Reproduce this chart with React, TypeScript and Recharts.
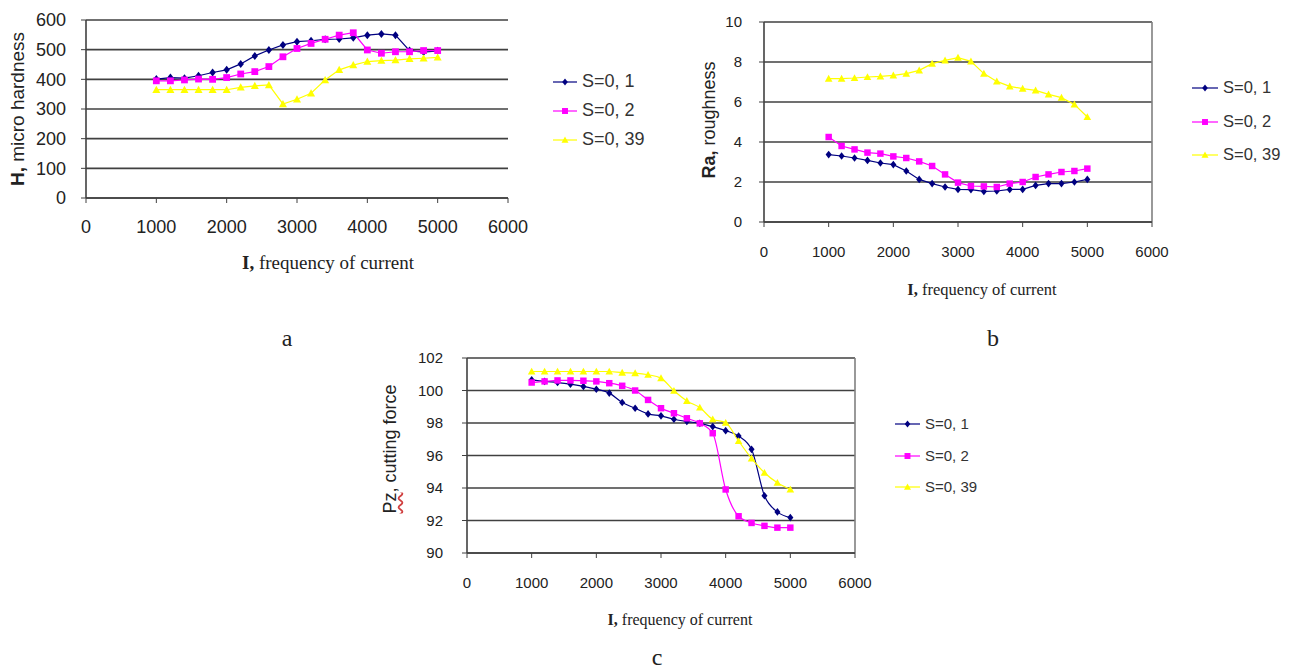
import React from 'react';
import { LineChart, Line, XAxis, YAxis, CartesianGrid, ReferenceLine } from 'recharts';

// frequency of current, shared by all three panels
const frequency = [1000, 1200, 1400, 1600, 1800, 2000, 2200, 2400, 2600, 2800, 3000, 3200, 3400, 3600, 3800, 4000, 4200, 4400, 4600, 4800, 5000];
const xTicks = [0, 1000, 2000, 3000, 4000, 5000, 6000];

const seriesNames = ['S=0, 1', 'S=0, 2', 'S=0, 39'];
const seriesColors = ['#000080', '#FF00FF', '#FFFF00'];
const seriesShapes = ['diamond', 'square', 'triangle'];

// a: micro hardness
const hardnessS1 = [401, 406, 404, 412, 423, 432, 452, 479, 499, 516, 527, 530, 535, 536, 540, 549, 553, 549, 497, 492, 496];
const hardnessS2 = [395, 395, 398, 401, 400, 406, 418, 426, 443, 476, 504, 521, 535, 549, 557, 499, 488, 493, 493, 497, 497];
const hardnessS39 = [365, 365, 365, 365, 365, 365, 373, 378, 381, 317, 333, 353, 398, 432, 448, 460, 463, 465, 469, 471, 474];
const hardnessTicks = [0, 100, 200, 300, 400, 500, 600];

// b: roughness
const roughnessS1 = [3.37, 3.3, 3.2, 3.08, 2.95, 2.87, 2.55, 2.13, 1.92, 1.75, 1.63, 1.62, 1.53, 1.55, 1.63, 1.63, 1.83, 1.92, 1.92, 2.0, 2.13];
const roughnessS2 = [4.25, 3.8, 3.63, 3.47, 3.42, 3.28, 3.2, 3.03, 2.8, 2.38, 1.97, 1.8, 1.78, 1.75, 1.92, 2.0, 2.25, 2.38, 2.5, 2.55, 2.67];
const roughnessS39 = [7.17, 7.17, 7.2, 7.25, 7.28, 7.33, 7.42, 7.58, 7.92, 8.08, 8.22, 8.03, 7.42, 7.03, 6.78, 6.67, 6.58, 6.38, 6.22, 5.88, 5.25];
const roughnessTicks = [0, 2, 4, 6, 8, 10];

// c: cutting force
const forceS1 = [100.66, 100.56, 100.49, 100.39, 100.25, 100.08, 99.84, 99.26, 98.91, 98.56, 98.44, 98.23, 98.09, 97.98, 97.78, 97.53, 97.2, 96.38, 93.52, 92.53, 92.18];
const forceS2 = [100.49, 100.56, 100.62, 100.62, 100.6, 100.56, 100.45, 100.29, 100.0, 99.42, 98.91, 98.6, 98.29, 97.98, 97.37, 93.91, 92.26, 91.85, 91.67, 91.56, 91.56];
const forceS39 = [101.17, 101.17, 101.17, 101.17, 101.17, 101.17, 101.17, 101.1, 101.07, 100.97, 100.76, 99.98, 99.36, 98.95, 98.23, 98.02, 96.89, 95.82, 94.94, 94.32, 93.91];
const forceTicks = [90, 92, 94, 96, 98, 100, 102];

const buildRows = (s1: number[], s2: number[], s3: number[]) =>
  frequency.map((f, i) => ({ f, s1: s1[i], s2: s2[i], s3: s3[i] }));

const hardnessData = buildRows(hardnessS1, hardnessS2, hardnessS39);
const roughnessData = buildRows(roughnessS1, roughnessS2, roughnessS39);
const forceData = buildRows(forceS1, forceS2, forceS39);

const sans = '"Liberation Sans", Arial, sans-serif';
const serif = '"Liberation Serif", "Times New Roman", serif';
const axisColor = '#404040';

function markerShape(shape: string, cx: number, cy: number, color: string, s: number) {
  if (shape === 'diamond') {
    return <polygon points={`${cx},${cy - s} ${cx + s * 0.8},${cy} ${cx},${cy + s} ${cx - s * 0.8},${cy}`} fill={color} />;
  }
  if (shape === 'square') {
    return <rect x={cx - s * 0.85} y={cy - s * 0.85} width={s * 1.7} height={s * 1.7} fill={color} />;
  }
  return <polygon points={`${cx},${cy - s} ${cx + s},${cy + s * 0.8} ${cx - s},${cy + s * 0.8}`} fill={color} />;
}

const dotFor = (idx: number, size: number) => (p: any) => {
  const { cx, cy, index } = p;
  if (cx == null || cy == null) return <g key={`d${idx}-${index}`} />;
  return <g key={`d${idx}-${index}`}>{markerShape(seriesShapes[idx], cx, cy, seriesColors[idx], size)}</g>;
};

function Legend({ left, top, gap, fontSize, lineW }: { left: number; top: number; gap: number; fontSize: number; lineW: number }) {
  return (
    <div style={{ position: 'absolute', left, top, fontFamily: sans, fontSize, color: '#333' }}>
      {seriesNames.map((n, i) => (
        <div key={n} style={{ position: 'absolute', top: i * gap, left: 0, height: 0, whiteSpace: 'nowrap' }}>
          <svg width={lineW} height={12} style={{ position: 'absolute', left: 0, top: -6 }}>
            <line x1={0} x2={lineW} y1={6} y2={6} stroke={seriesColors[i]} strokeWidth={1.2} />
            {markerShape(seriesShapes[i], lineW / 2, 6, seriesColors[i], 3.5)}
          </svg>
          <span style={{ position: 'absolute', left: lineW + 5, top: -fontSize * 0.6, lineHeight: 1.2 + '' }}>{n}</span>
        </div>
      ))}
    </div>
  );
}

function Title({ x, y, rotate, children, size, family }: any) {
  return (
    <div
      style={{
        position: 'absolute', left: x, top: y, whiteSpace: 'nowrap', fontSize: size, fontFamily: family,
        color: '#222', transform: `translate(-50%, -50%)${rotate ? ' rotate(-90deg)' : ''}`, lineHeight: 1,
      }}
    >
      {children}
    </div>
  );
}

function Panel({ data, left, top, width, height, margin, yWidth, xHeight, domain, ticks, tickSize, xTickGap, yTickGap, border, curve, dotSize }: any) {
  const tickStyle = { fill: '#222', fontFamily: sans, fontSize: tickSize };
  return (
    <div style={{ position: 'absolute', left, top }}>
      <LineChart width={width} height={height} data={data} margin={margin}>
        <CartesianGrid vertical={false} stroke={axisColor} strokeWidth={1.6} />
        <XAxis
          type="number" dataKey="f" domain={[0, 6000]} ticks={xTicks} height={xHeight}
          tick={tickStyle} tickSize={5} tickMargin={xTickGap} interval={0}
          stroke={axisColor} axisLine={{ stroke: axisColor, strokeWidth: 1.6 }}
        />
        <YAxis
          type="number" domain={domain} ticks={ticks} width={yWidth} interval={0}
          tick={tickStyle} tickSize={5} tickMargin={yTickGap}
          stroke={axisColor} axisLine={{ stroke: axisColor, strokeWidth: 1.6 }}
        />
        {border && <ReferenceLine x={6000} stroke="#808080" strokeWidth={1.6} />}
        {['s1', 's2', 's3'].map((k, i) => (
          <Line
            key={k} dataKey={k} type={curve} stroke={seriesColors[i]} strokeWidth={1.2}
            dot={dotFor(i, dotSize)} activeDot={false} isAnimationActive={false}
          />
        ))}
      </LineChart>
    </div>
  );
}

export default function App() {
  return (
    <div style={{ position: 'absolute', left: 0, top: 0, width: 1290, height: 670, background: '#fff', overflow: 'hidden' }}>
      {/* a */}
      <Panel
        data={hardnessData} left={0} top={0} width={545} height={280}
        margin={{ top: 20, right: 37, left: 0, bottom: 0 }} yWidth={86} xHeight={82}
        domain={[0, 600]} ticks={hardnessTicks} tickSize={18} xTickGap={17} yTickGap={15}
        border={false} curve="linear" dotSize={4}
      />
      <Title x={17} y={109} rotate size={19} family={sans}><b>H,</b> micro hardness</Title>
      <Title x={328} y={262} size={19} family={serif}><b>I,</b> frequency of current</Title>
      <Legend left={553} top={82} gap={29} fontSize={18} lineW={24} />
      <Title x={287} y={338} size={24} family={serif}>a</Title>

      {/* b */}
      <Panel
        data={roughnessData} left={690} top={0} width={495} height={280}
        margin={{ top: 22, right: 33, left: 0, bottom: 0 }} yWidth={74} xHeight={58}
        domain={[0, 10]} ticks={roughnessTicks} tickSize={15} xTickGap={19} yTickGap={17}
        border curve="linear" dotSize={3.8}
      />
      <Title x={709} y={120} rotate size={18} family={sans}><b>Ra,</b> roughness</Title>
      <Title x={982} y={290} size={16.5} family={serif}><b>I,</b> frequency of current</Title>
      <Legend left={1192} top={88} gap={33.5} fontSize={16.5} lineW={26} />
      <Title x={993} y={338} size={24} family={serif}>b</Title>

      {/* c */}
      <Panel
        data={forceData} left={380} top={330} width={505} height={300}
        margin={{ top: 28, right: 30, left: 0, bottom: 0 }} yWidth={87} xHeight={77}
        domain={[90, 102]} ticks={forceTicks} tickSize={15} xTickGap={19} yTickGap={19}
        border curve="monotone" dotSize={3.8}
      />
      <Title x={390} y={449} rotate size={18} family={sans}>
        <span style={{ textDecoration: 'underline wavy #d04040' }}>Pz</span>, cutting force
      </Title>
      <Title x={680} y={620} size={16} family={serif}><b>I,</b> frequency of current</Title>
      <Legend left={895} top={424} gap={31.5} fontSize={15} lineW={25} />
      <Title x={657} y={657} size={24} family={serif}>c</Title>
    </div>
  );
}
